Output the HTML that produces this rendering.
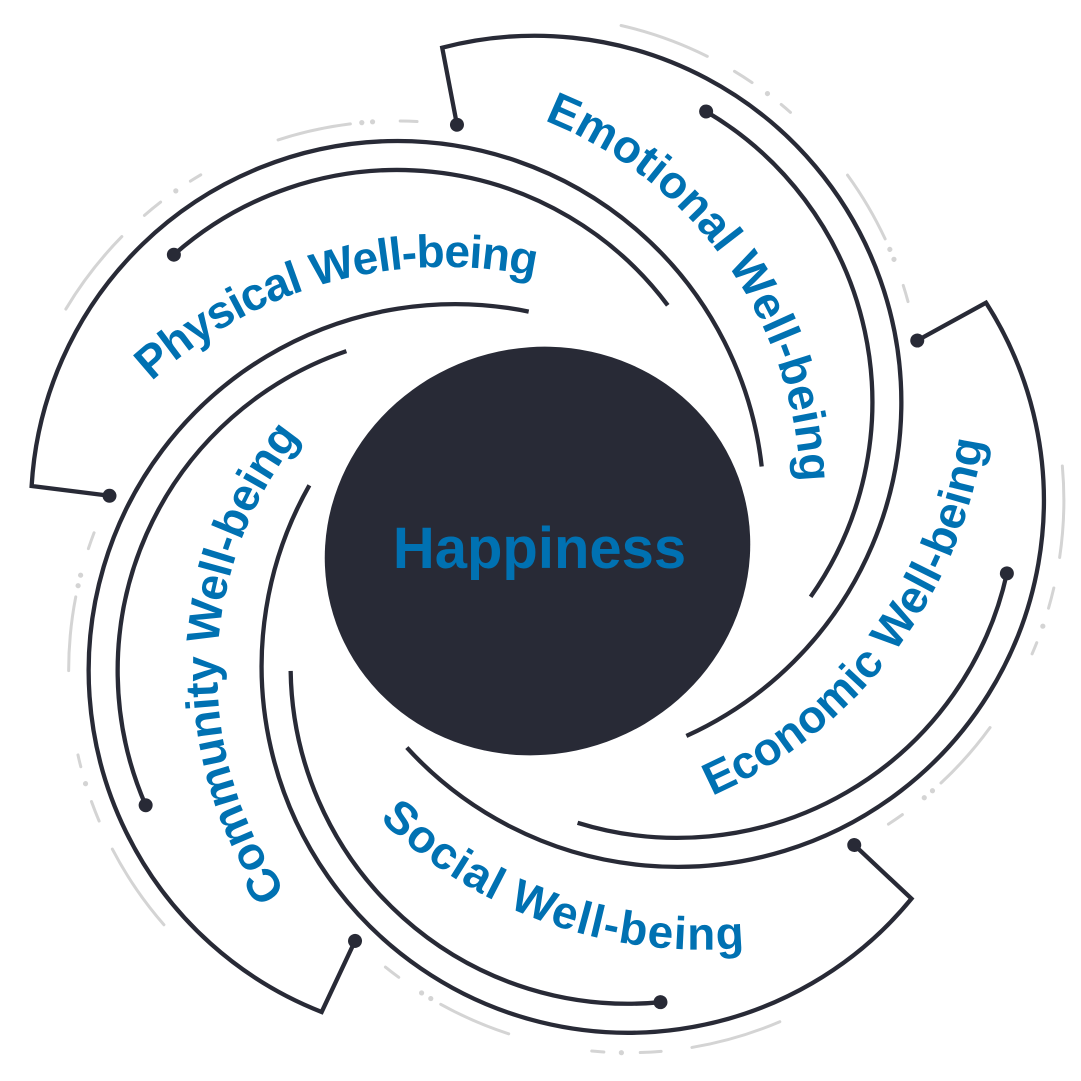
<!DOCTYPE html>
<html>
<head>
<meta charset="utf-8">
<style>
html,body{margin:0;padding:0;background:#ffffff;width:1081px;height:1081px;overflow:hidden;}
svg{display:block;}
.lbl{font-family:"Liberation Sans",Arial,sans-serif;font-weight:bold;font-size:46px;fill:#0071b2;}
</style>
</head>
<body>
<svg width="1081" height="1081" viewBox="0 0 1081 1081" xmlns="http://www.w3.org/2000/svg">
<defs>
  <g id="arm">
    <path d="M109.5 495.8 L31.63 486.02 A366.5 366.5 0 0 1 761.7 466.5" fill="none" stroke="#282a36" stroke-width="4.3" stroke-linejoin="miter"/>
    <circle cx="109.5" cy="495.8" r="7" fill="#282a36"/>
    <path d="M173.87 254.73 A337.5 337.5 0 0 1 667.75 305.33" fill="none" stroke="#282a36" stroke-width="4.3"/>
    <circle cx="173.87" cy="254.73" r="7" fill="#282a36"/>
    <g stroke="#d4d4d4" stroke-width="3" fill="none" stroke-linecap="round">
      <path d="M65.84 309.06 A386.5 386.5 0 0 1 121.83 236.6"/>
      <path d="M144.44 215.36 A386.5 386.5 0 0 1 160.61 202.1"/>
      <path d="M190.4 181.17 A386.5 386.5 0 0 1 200.76 174.82"/>
      <path d="M278.06 139.92 A386.5 386.5 0 0 1 350.4 123.88"/>
      <path d="M400.2 121.0 A386.5 386.5 0 0 1 417.05 121.49"/>
    </g>
    <g fill="#d4d4d4">
      <circle cx="175.81" cy="190.9" r="2.6"/>
      <circle cx="361.8" cy="122.65" r="2.6"/>
      <circle cx="372.56" cy="121.8" r="2.6"/>
    </g>
  </g>
  <path id="tpPhys" d="M51.3 519.65 A433 433 0 0 1 690.87 343.48" fill="none"/>
  <path id="tpEmo" d="M428.23 93.36 A405.6 405.6 0 0 1 787.33 600.53" fill="none"/>
  <path id="tpCom" d="M344.08 955.75 A378.7 378.7 0 0 1 361.33 375.78" fill="none"/>
  <path id="tpEco" d="M547.26 834.1 A461 461 0 0 0 976.69 271.41" fill="none"/>
  <path id="tpSoc" d="M266.05 647.77 A467 467 0 0 0 941.37 884.22" fill="none"/>
</defs>

<use href="#arm"/>
<use href="#arm" transform="rotate(72 538.6 549.4)"/>
<use href="#arm" transform="rotate(144 538.6 549.4)"/>
<use href="#arm" transform="rotate(216 538.6 549.4)"/>
<use href="#arm" transform="rotate(288 538.6 549.4)"/>

<ellipse cx="537.5" cy="551" rx="214" ry="203" transform="rotate(-20 537.5 551)" fill="#282a36"/>
<text x="539.5" y="568" text-anchor="middle" font-family="Liberation Sans, Arial, sans-serif" font-weight="bold" font-size="58" fill="#0071b2">Happiness</text>

<text class="lbl" letter-spacing="-1.02"><textPath href="#tpPhys" startOffset="50%" text-anchor="middle">Physical Well-being</textPath></text>
<text class="lbl" letter-spacing="0.1"><textPath href="#tpEmo" startOffset="50%" text-anchor="middle">Emotional Well-being</textPath></text>
<text class="lbl" letter-spacing="-0.53"><textPath href="#tpCom" startOffset="50%" text-anchor="middle">Community Well-being</textPath></text>
<text class="lbl" letter-spacing="0.12"><textPath href="#tpEco" startOffset="50%" text-anchor="middle">Economic Well-being</textPath></text>
<text class="lbl" letter-spacing="1.18"><textPath href="#tpSoc" startOffset="50%" text-anchor="middle">Social Well-being</textPath></text>
</svg>
</body>
</html>
